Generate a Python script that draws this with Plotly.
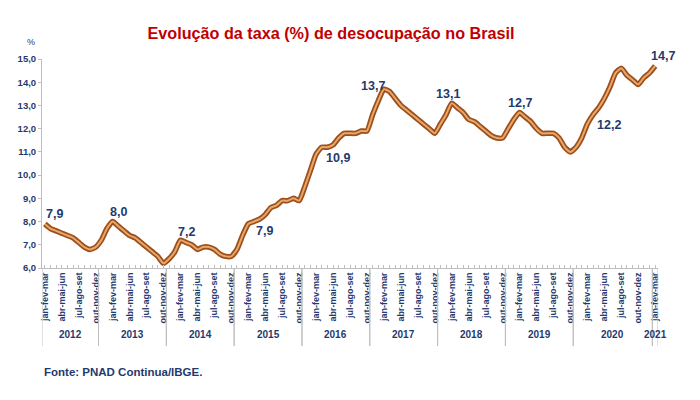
import plotly.graph_objects as go

# ---- data (moving quarters, % unemployment) ----
years = ["2012", "2013", "2014", "2015", "2016", "2017", "2018", "2019", "2020", "2021"]
periods_full = ["nov-dez-jan", "dez-jan-fev", "jan-fev-mar", "fev-mar-abr", "mar-abr-mai",
                "abr-mai-jun", "mai-jun-jul", "jun-jul-ago", "jul-ago-set", "ago-set-out",
                "set-out-nov", "out-nov-dez"]
periods_2012 = periods_full[2:]
periods_2020 = periods_full + ["nov-dez-jan", "dez-jan-fev"]
periods_2021 = ["jan-fev-mar"]

v2012 = [7.9, 7.7, 7.6, 7.5, 7.4, 7.3, 7.1, 6.9, 6.8, 6.9]
v2013 = [7.2, 7.7, 8.0, 7.8, 7.6, 7.4, 7.3, 7.1, 6.9, 6.7, 6.5, 6.2]
v2014 = [6.4, 6.7, 7.2, 7.1, 7.0, 6.8, 6.9, 6.9, 6.8, 6.6, 6.5, 6.5]
v2015 = [6.8, 7.4, 7.9, 8.0, 8.1, 8.3, 8.6, 8.7, 8.9, 8.9, 9.0, 8.9]
v2016 = [9.5, 10.2, 10.9, 11.2, 11.2, 11.3, 11.6, 11.8, 11.8, 11.8, 11.9, 11.9]
v2017 = [12.6, 13.2, 13.7, 13.6, 13.3, 13.0, 12.8, 12.6, 12.4, 12.2, 12.0, 11.8]
v2018 = [12.2, 12.6, 13.1, 12.9, 12.7, 12.4, 12.3, 12.1, 11.9, 11.7, 11.6, 11.6]
v2019 = [12.0, 12.4, 12.7, 12.5, 12.3, 12.0, 11.8, 11.8, 11.8, 11.6, 11.2, 11.0]
v2020 = [11.2, 11.6, 12.2, 12.6, 12.9, 13.3, 13.8, 14.4, 14.6, 14.3, 14.1, 13.9, 14.2, 14.4]
v2021 = [14.7]

quarter_ticks = ["jan-fev-mar", "abr-mai-jun", "jul-ago-set", "out-nov-dez"]
y_ticks = [6, 7, 8, 9, 10, 11, 12, 13, 14, 15]

# ---- build series ----
groups = list(zip(
    years,
    [periods_2012, periods_full, periods_full, periods_full, periods_full,
     periods_full, periods_full, periods_full, periods_2020, periods_2021],
    [v2012, v2013, v2014, v2015, v2016, v2017, v2018, v2019, v2020, v2021]))

xs, ys, names, tickvals, ticktext = [], [], [], [], []
bounds = []
label_idx = []
i = 0
for yr, per, vals in groups:
    start = i
    for k, (p, v) in enumerate(zip(per, vals)):
        xs.append(i)
        ys.append(v)
        names.append(p)
        if p in quarter_ticks and k < 12:
            tickvals.append(i)
            ticktext.append(p)
        if p == "jan-fev-mar" and k < 12:
            label_idx.append(i)
        i += 1
    bounds.append((start - 0.5, i - 0.5))

NAVY = "#1F3A6E"
FONT = "Liberation Sans, Arial"

# page offset (browser body margin) compensation
OFF = 8
W, H = 700 - OFF, 400 - OFF
# plot area in reference-window pixels
L, R, T, B = 42, 658, 59, 268
def px(xp):
    return (xp - L) / (R - L)
def py(yp):
    return (B - yp) / (B - T)

fig = go.Figure()
fig.add_trace(go.Scatter(x=xs, y=ys, mode="lines",
                         line=dict(color="#9C4F1C", width=5.5, shape="spline", smoothing=0.5),
                         hoverinfo="skip", showlegend=False))
fig.add_trace(go.Scatter(x=xs, y=ys, mode="lines",
                         line=dict(color="#E9A86A", width=2, shape="spline", smoothing=0.5),
                         text=names, showlegend=False))

# data labels: (xshift, yshift, xanchor, yanchor)
label_shifts = [(0, 2, "left", "bottom"), (6, 2, "center", "bottom"), (-3, 0, "left", "bottom"),
                (7, 1, "left", "top"), (9, -4, "left", "middle"), (2, 3, "right", "middle"),
                (-4, 1, "center", "bottom"), (0, 1, "center", "bottom"), (9, -1, "left", "middle"),
                (-5, 2, "left", "bottom")]
for idx, (dx, dy, xa, ya) in zip(label_idx, label_shifts):
    fig.add_annotation(x=xs[idx], y=ys[idx], text=f"{ys[idx]:.1f}".replace(".", ","), showarrow=False,
                       xanchor=xa, yanchor=ya, xshift=dx, yshift=dy, borderpad=0,
                       font=dict(family=FONT, size=12.5, color=NAVY, weight="bold"))

# year separators and labels
for (s, e), yr in zip(bounds, years):
    for xv in (s, e):
        fig.add_shape(type="line", xref="x", yref="paper", x0=xv, x1=xv, y0=0, y1=py(346),
                      line=dict(color="#BFBFBF", width=1))
    fig.add_annotation(x=(s + e) / 2, y=py(334), xref="x", yref="paper", text=yr,
                       xanchor="center", yanchor="middle",
                       showarrow=False, font=dict(family=FONT, size=10, color=NAVY, weight="bold"))

fig.add_annotation(x=px(31), y=py(42), xref="paper", yref="paper", text="%", showarrow=False,
                   xanchor="center", yanchor="middle",
                   font=dict(family=FONT, size=9, color=NAVY))

fig.add_annotation(text="Fonte: PNAD Continua/IBGE.", xref="paper", yref="paper",
                   x=px(42), y=py(372), xanchor="left", yanchor="middle", showarrow=False,
                   font=dict(family=FONT, size=11.5, color=NAVY, weight="bold"))

fig.update_layout(
    width=W, height=H,
    margin=dict(l=L - OFF, r=W - (R - OFF), t=T - OFF, b=H - (B - OFF)),
    paper_bgcolor="white", plot_bgcolor="white",
    separators=",.",
    title=dict(text="Evolução da taxa (%) de desocupação no Brasil", x=(331 - OFF) / W, xref="container",
               xanchor="center", y=1 - (33 - OFF) / H, yref="container", yanchor="middle",
               font=dict(family=FONT, size=16.2, color="#C00000", weight="bold")),
    xaxis=dict(range=[-0.5, len(xs) - 0.5], tickvals=tickvals, ticktext=ticktext, tickangle=-90,
               tickfont=dict(family=FONT, size=9, color=NAVY, weight="bold"), automargin=False,
               showgrid=False, zeroline=False, showline=True, linecolor="#BFBFBF",
               ticks="", minor=dict(tickmode="linear", tick0=0, dtick=1, ticks="inside", ticklen=3,
                                    tickcolor="#BFBFBF", showgrid=False)),
    yaxis=dict(range=[6, 15], tickvals=y_ticks, tickformat=".1f", showgrid=False, zeroline=False,
               showline=True, linecolor="#BFBFBF", ticks="outside", ticklen=3, tickcolor="#BFBFBF",
               automargin=False,
               tickfont=dict(family=FONT, size=9.5, color=NAVY, weight="bold")),
)

fig.write_html("out.html")
